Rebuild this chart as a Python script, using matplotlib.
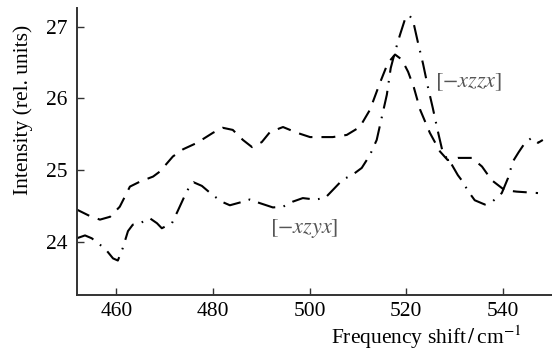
import numpy as np
import matplotlib
matplotlib.use("Agg")
import matplotlib.pyplot as plt

plt.rcParams['font.family'] = ['Liberation Serif', 'DejaVu Serif']
plt.rcParams['mathtext.fontset'] = 'stix'
plt.rcParams['lines.scale_dashes'] = False

# dashed curve
shift_a = [451.8, 454.5, 456.6, 458.7, 460.7, 462.8, 464.9, 467.6, 469.0, 471.7, 473.8, 476.7,
           480.0, 482.0, 484.1, 486.2, 488.1, 490.1, 491.8, 494.5, 497.4, 500.1, 504.8, 507.7,
           510.4, 512.5, 514.6, 516.2, 517.7, 519.1, 520.4, 521.6, 522.9, 524.9, 527.0, 528.6,
           530.7, 533.6, 535.7, 537.7, 540.4, 542.9, 547.3]
intensity_a = [24.45, 24.36, 24.31, 24.35, 24.49, 24.77, 24.84, 24.91, 24.98, 25.19, 25.29, 25.38,
               25.52, 25.59, 25.56, 25.42, 25.32, 25.39, 25.53, 25.60, 25.52, 25.46, 25.46, 25.49,
               25.60, 25.84, 26.22, 26.49, 26.61, 26.54, 26.37, 26.15, 25.84, 25.52, 25.26, 25.14,
               25.17, 25.17, 25.05, 24.86, 24.72, 24.70, 24.68]

# dash-dot curve
shift_b = [451.8, 453.5, 454.9, 456.2, 457.6, 459.3, 460.3, 461.3, 462.4, 463.4, 464.9, 466.9,
           468.4, 469.4, 471.5, 472.7, 474.2, 475.2, 476.0, 477.7, 479.8, 481.8, 483.5, 486.2,
           487.6, 489.7, 492.4, 494.5, 496.5, 498.6, 501.1, 503.2, 505.2, 506.9, 508.8, 510.8,
           512.5, 513.9, 515.2, 516.0, 516.8, 517.7, 518.7, 519.7, 520.6, 521.4, 522.4, 523.5,
           524.5, 525.5, 526.6, 527.6, 529.5, 530.7, 531.7, 532.8, 534.2, 536.3, 538.0, 539.8,
           541.1, 542.1, 543.3, 544.6, 546.0, 547.3, 548.3]
intensity_b = [24.05, 24.09, 24.05, 23.98, 23.91, 23.77, 23.74, 23.91, 24.15, 24.24, 24.26, 24.33,
               24.26, 24.19, 24.26, 24.43, 24.65, 24.78, 24.83, 24.78, 24.66, 24.56, 24.51, 24.56,
               24.59, 24.54, 24.48, 24.49, 24.56, 24.61, 24.59, 24.61, 24.75, 24.87, 24.93, 25.03,
               25.21, 25.42, 25.81, 26.05, 26.42, 26.65, 26.88, 27.09, 27.16, 27.09, 26.79, 26.48,
               26.16, 25.87, 25.53, 25.24, 25.07, 24.93, 24.84, 24.71, 24.58, 24.52, 24.57, 24.68,
               24.89, 25.12, 25.25, 25.38, 25.45, 25.38, 25.42]

xticks = [460, 480, 500, 520, 540]
yticks = [24, 25, 26, 27]

fig = plt.figure(figsize=(5.52, 3.54), dpi=100)
ax = fig.add_axes([0.140, 0.1667, 0.860, 0.811])

ax.plot(shift_a, intensity_a, color='black', lw=1.5, dashes=(10, 6.5))
ax.plot(shift_b, intensity_b, color='black', lw=1.5, dashes=(13, 6, 1.2, 6))

ax.text(533.0, 26.23, '$[-xzzx]$', fontsize=16, color='#555555', ha='center', va='center')
ax.text(498.8, 24.18, '$[-xzyx]$', fontsize=16, color='#555555', ha='center', va='center')

ax.set_xlim(451.9, 550.2)
ax.set_ylim(23.26, 27.26)
ax.set_xticks(xticks)
ax.set_yticks(yticks)
ax.tick_params(direction='in', length=5, width=1, labelsize=15.5, color='#333333')
ax.tick_params(axis='x', pad=5)
ax.tick_params(axis='y', pad=7)
for s in ['top', 'right']:
    ax.spines[s].set_visible(False)
for s in ['left', 'bottom']:
    ax.spines[s].set_linewidth(1.4)
    ax.spines[s].set_color('#333333')

ax.set_ylabel('Intensity (rel. units)', fontsize=15.5)
ax.yaxis.set_label_coords(-0.093, 0.645)
ax.set_xlabel('Frequency shift$\\,/\\,$cm$^{-1}$', fontsize=15.5)
ax.xaxis.set_label_coords(0.735, -0.1)

fig.savefig('out.png', dpi=100)
